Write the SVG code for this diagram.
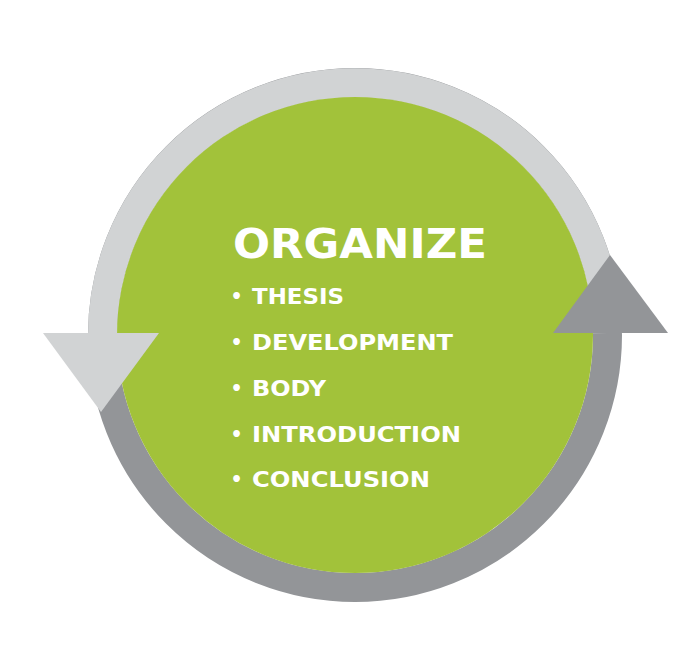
<svg xmlns="http://www.w3.org/2000/svg" width="700" height="663" viewBox="0 0 700 663">
  <style>
    .ring { fill: none; stroke-width: 29; }
    .light { stroke: #D1D3D4; }
    .dark { stroke: #939598; }
    .title { font-family: "DejaVu Sans", "Liberation Sans", sans-serif; font-weight: bold; fill: #FFFFFF; font-size: 41px; }
    .item { font-family: "DejaVu Sans", "Liberation Sans", sans-serif; font-weight: bold; fill: #FFFFFF; font-size: 21px; }
    .bullet { font-family: "DejaVu Sans", "Liberation Sans", sans-serif; font-weight: bold; fill: #FFFFFF; font-size: 19px; text-anchor: middle; }
  </style>
  <rect width="700" height="663" fill="#FFFFFF"/>
  <g id="connectors">
    <circle class="ring dark" cx="355" cy="335" r="252.5"/>
    <path class="ring light" d="M 102.5 335 A 252.5 252.5 0 0 1 607.49 333"/>
  </g>
  <g id="cycle-center">
    <circle cx="355" cy="335" r="238" fill="#A2C23A"/>
  </g>
  <g id="arrow-left">
    <polygon points="43,333 159,333 101,412" fill="#D1D3D4"/>
  </g>
  <g id="arrow-right">
    <polygon points="553,333 668,333 610,255" fill="#939598"/>
  </g>
  <g id="label">
    <text class="title" x="233" y="258" textLength="254" lengthAdjust="spacingAndGlyphs">ORGANIZE</text>
    <text class="bullet" x="236.5" y="303">•</text>
    <text class="item" x="252" y="304" textLength="92" lengthAdjust="spacingAndGlyphs">THESIS</text>
    <text class="bullet" x="236.5" y="349">•</text>
    <text class="item" x="252" y="350" textLength="201" lengthAdjust="spacingAndGlyphs">DEVELOPMENT</text>
    <text class="bullet" x="236.5" y="395">•</text>
    <text class="item" x="252" y="396" textLength="74" lengthAdjust="spacingAndGlyphs">BODY</text>
    <text class="bullet" x="236.5" y="441">•</text>
    <text class="item" x="252" y="442" textLength="209" lengthAdjust="spacingAndGlyphs">INTRODUCTION</text>
    <text class="bullet" x="236.5" y="486">•</text>
    <text class="item" x="252" y="487" textLength="178" lengthAdjust="spacingAndGlyphs">CONCLUSION</text>
  </g>
</svg>
